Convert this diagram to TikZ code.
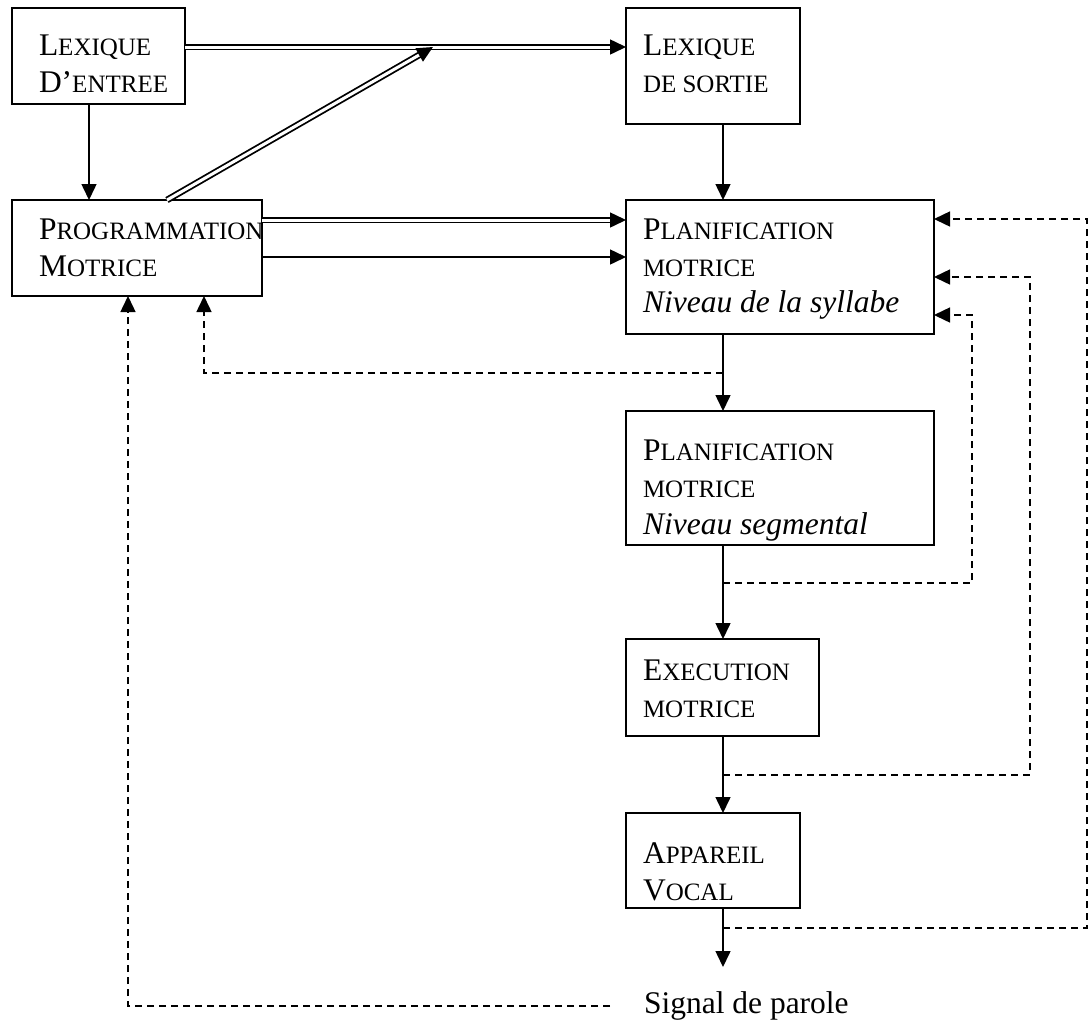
\documentclass[tikz,border=0pt]{standalone}
\usepackage{fontspec}
\setmainfont{Liberation Serif}
\usetikzlibrary{arrows.meta,calc}
\newcommand\smc[1]{{\fontsize{25pt}{37pt}\selectfont #1}}
\begin{document}
\begin{tikzpicture}[x=1pt,y=-1pt,
  box/.style={draw, line width=1.5pt, inner sep=0pt, outer sep=0pt},
  txt/.style={anchor=base west, inner sep=0pt, outer sep=0pt, font=\fontsize{31.5pt}{37pt}\selectfont},
  sld/.style={line width=1.5pt, -{Triangle[length=16pt,width=15pt]}},
  dbl/.style={line width=1.8pt, double, double distance=3pt, shorten >=15pt},
  tipx/.style={line width=1.5pt, -{Triangle[length=16pt,width=15pt]}},
  dsh/.style={line width=1.5pt, dash pattern=on 7pt off 5pt, -{Triangle[length=16pt,width=15pt]}}]
\useasboundingbox (0,0) rectangle (1091,1021);
% boxes
\node[box, minimum width=173pt, minimum height=96pt] (entree) at (98.5,56) {};
\node[box, minimum width=174pt, minimum height=116pt] (sortie) at (713,66) {};
\node[box, minimum width=250pt, minimum height=96pt] (prog) at (137,248) {};
\node[box, minimum width=308pt, minimum height=134pt] (plan1) at (780,267) {};
\node[box, minimum width=308pt, minimum height=134pt] (plan2) at (780,478) {};
\node[box, minimum width=193pt, minimum height=97pt] (exec) at (722.5,687.5) {};
\node[box, minimum width=174pt, minimum height=95pt] (app) at (713,860.5) {};
% texts
\node[txt] (t1a) at (39,55) {L\smc{EXIQUE}};
\node[txt] (t1b) at (39,92) {D’\smc{ENTREE}};
\node[txt] (t2a) at (643,55) {L\smc{EXIQUE}};
\node[txt] (t2b) at (643,92) {\smc{DE SORTIE}};
\node[txt] (t3a) at (39,239) {P\smc{ROGRAMMATION}};
\node[txt] (t3b) at (39,276) {M\smc{OTRICE}};
\node[txt] (t4a) at (643,239) {P\smc{LANIFICATION}};
\node[txt] (t4b) at (643,276) {\smc{MOTRICE}};
\node[txt] (t4c) at (643,312) {\textit{Niveau de la syllabe}};
\node[txt] (t5a) at (643,460) {P\smc{LANIFICATION}};
\node[txt] (t5b) at (643,497) {\smc{MOTRICE}};
\node[txt] (t5c) at (643,534) {\textit{Niveau segmental}};
\node[txt] (t6a) at (643,680) {E\smc{XECUTION}};
\node[txt] (t6b) at (643,717) {\smc{MOTRICE}};
\node[txt] (t7a) at (643,863) {A\smc{PPAREIL}};
\node[txt] (t7b) at (643,900) {V\smc{OCAL}};
\node[txt] (signal) at (644,1013) {Signal de parole};
% helper coordinates
\coordinate (j) at (433,47);
\coordinate (p0) at (167,200);
\coordinate (h1) at (0,220);
\coordinate (h2) at (0,257);
\coordinate (c1) at (723,373);
\coordinate (c2) at (723,583);
\coordinate (c3) at (723,775);
\coordinate (c4) at (723,928);
\coordinate (c5) at (610,1006);
\coordinate (sigtop) at (723,967);
% double arrows
\draw[dbl] (entree.east|-j) -- (sortie.west|-j);
\draw[tipx] ($(sortie.west|-j)+(-16,0)$) -- (sortie.west|-j);
\draw[dbl] (p0) -- (j);
\draw[tipx] ($(j)!16pt!(p0)$) -- (j);
\draw[dbl] (prog.east|-h1) -- (plan1.west|-h1);
\draw[tipx] ($(plan1.west|-h1)+(-16,0)$) -- (plan1.west|-h1);
% solid arrows
\draw[sld] (prog.east|-h2) -- (plan1.west|-h2);
\draw[sld] ([xshift=-9.5pt]entree.south) -- ([xshift=-9.5pt]entree.south |- prog.north);
\draw[sld] (c1|-sortie.south) -- (c1|-plan1.north);
\draw[sld] (c1|-plan1.south) -- (c1|-plan2.north);
\draw[sld] (c1|-plan2.south) -- (c1|-exec.north);
\draw[sld] (c1|-exec.south) -- (c1|-app.north);
\draw[sld] (c1|-app.south) -- (sigtop);
% dashed feedback
\draw[dsh] (c1) -| ([xshift=67pt]prog.south);
\draw[dsh] (c2) -- (972,583) -- (972,315) -- ([yshift=-48pt]plan1.east);
\draw[dsh] (c3) -- (1030,775) -- (1030,277) -- ([yshift=-10pt]plan1.east);
\draw[dsh] (c4) -- (1087,928) -- (1087,219) -- ([yshift=48pt]plan1.east);
\draw[dsh] (c5) -| ([xshift=-9pt]prog.south);
\end{tikzpicture}
\end{document}
